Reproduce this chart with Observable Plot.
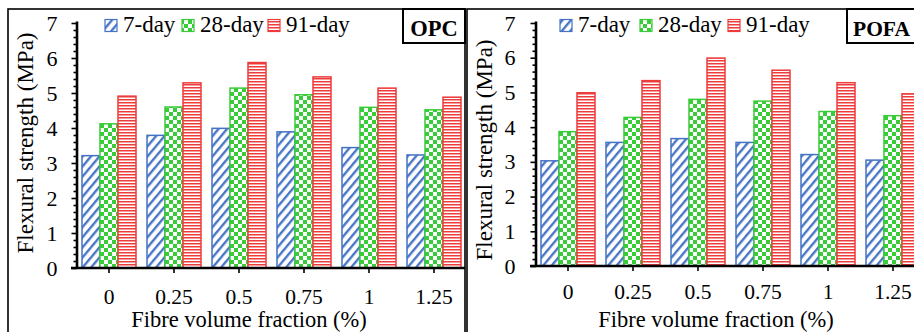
<!DOCTYPE html>
<html><head><meta charset="utf-8">
<script src="https://cdn.jsdelivr.net/npm/d3@7"></script>
<script src="https://cdn.jsdelivr.net/npm/@observablehq/plot@0.6"></script>
<style>
html,body{margin:0;padding:0;background:#fff;overflow:hidden;width:914px;height:332px;}
#wrap{position:relative;width:914px;height:332px;overflow:hidden;background:#fff;}
#wrap svg, #wrap svg text{font-family:"Liberation Serif","DejaVu Serif",serif !important;}
</style></head><body>
<svg id="defs" width="0" height="0" style="position:absolute;left:0;top:0">
<defs>
<pattern id="pat7" patternUnits="userSpaceOnUse" width="6.5" height="6.5" patternTransform="rotate(40)">
 <rect width="6.5" height="6.5" fill="#fff"/>
 <line x1="1.2" y1="-1" x2="1.2" y2="7.5" stroke="#4472C4" stroke-width="2.3"/>
</pattern>
<pattern id="pat28" patternUnits="userSpaceOnUse" width="8" height="8">
 <rect width="8" height="8" fill="#fff"/>
 <rect width="4" height="4" fill="#38CC38"/>
 <rect x="4" y="4" width="4" height="4" fill="#38CC38"/>
</pattern>
<pattern id="pat91" patternUnits="userSpaceOnUse" width="6" height="3">
 <rect width="6" height="3" fill="#fff"/>
 <rect y="0" width="6" height="1.5" fill="#EE3B3B"/>
</pattern>
</defs></svg>
<div id="wrap"></div>
<script>
const categories = ["0", "0.25", "0.5", "0.75", "1", "1.25"];
const series = ["7-day", "28-day", "91-day"];
const opc7  = [3.21, 3.79, 3.99, 3.89, 3.44, 3.23];
const opc28 = [4.12, 4.60, 5.14, 4.95, 4.59, 4.52];
const opc91 = [4.91, 5.29, 5.87, 5.46, 5.14, 4.88];
const pofa7  = [3.03, 3.56, 3.67, 3.56, 3.21, 3.05];
const pofa28 = [3.87, 4.28, 4.80, 4.75, 4.45, 4.33];
const pofa91 = [4.99, 5.34, 5.99, 5.64, 5.28, 4.96];
const yTicks = [0, 1, 2, 3, 4, 5, 6, 7];
const yLabel = "Flexural strength (MPa)";
const xLabel = "Fibre volume fraction (%)";

const colors = {"7-day": "#4472C4", "28-day": "#38CC38", "91-day": "#EE3B3B"};
const fills = {"7-day": "url(#pat7)", "28-day": "url(#pat28)", "91-day": "url(#pat91)"};
const FONT = "Liberation Serif, DejaVu Serif, serif";
const minorTicks = d3.range(0, 36).map(i => i / 5).filter(v => Math.abs(v - Math.round(v)) > 1e-6);

function makePanel(values, cfg) {
  const rows = [];
  series.forEach((s, si) => categories.forEach((c, ci) => rows.push({cat: c, series: s, value: values[si][ci]})));
  const W = 466, H = 340;
  const chart = Plot.plot({
    width: W, height: H,
    marginLeft: 77, marginRight: 1, marginTop: cfg.top, marginBottom: H - cfg.bottom,
    style: {fontFamily: FONT, fontSize: "21px", background: "transparent", overflow: "visible", maxWidth: "none", color: "#000"},
    fx: {domain: categories, paddingInner: 0.031, paddingOuter: 0, label: null},
    x: {domain: series, paddingInner: 0, paddingOuter: 0.19, axis: null},
    y: {domain: [0, 7], label: null},
    marks: [
      ...series.map(s => Plot.barY(rows.filter(r => r.series === s), {
        fx: "cat", x: "series", y: "value", fill: fills[s], stroke: colors[s], strokeWidth: 1.5
      })),
      Plot.axisY(minorTicks, {tickSize: 3.5, tickFormat: () => "", strokeWidth: 1.6, label: null}),
      Plot.axisY(yTicks, {tickSize: 5.5, tickPadding: cfg.yPad, fontSize: 22, strokeWidth: 1.6, label: null}),
      Plot.axisFx({anchor: "bottom", tickSize: 5, tickPadding: cfg.xPad, fontSize: 21.5, strokeWidth: 1.6, label: null})
    ]
  });
  chart.style.position = "absolute";
  chart.style.left = cfg.left + "px";
  chart.style.top = "0px";
  const svg = d3.select(chart);
  const sy = chart.scale("y");
  let fxr = [77, W - 1];
  try { const f = chart.scale("fx"); if (f && f.range) fxr = f.range; } catch (e) {}
  const y0 = sy.apply(0), y7 = sy.apply(7);
  // axis lines
  svg.append("line").attr("x1", fxr[0] - 6).attr("x2", fxr[1]).attr("y1", y0).attr("y2", y0)
    .attr("stroke", "#000").attr("stroke-width", 2.6);
  svg.append("line").attr("x1", fxr[0]).attr("x2", fxr[0]).attr("y1", y7 - 1.5).attr("y2", y0)
    .attr("stroke", "#000").attr("stroke-width", 2.6);
  // panel border
  svg.append("rect").attr("x", 8).attr("y", 9).attr("width", 457).attr("height", 400)
    .attr("fill", "none").attr("stroke", "#000").attr("stroke-width", 1.6);
  // legend
  const lg = svg.append("g").attr("font-family", FONT).attr("font-size", 23).attr("text-anchor", "start");
  series.forEach((s, i) => {
    lg.append("rect").attr("x", cfg.legendX[i]).attr("y", 19.5).attr("width", 12).attr("height", 12)
      .attr("fill", fills[s]).attr("stroke", colors[s]).attr("stroke-width", 1.2);
    lg.append("text").attr("x", cfg.legendX[i] + 18).attr("y", 32).attr("text-anchor", "start").text(s);
  });
  // name box
  svg.append("rect").attr("x", cfg.boxX).attr("y", 9).attr("width", cfg.boxW).attr("height", 34)
    .attr("fill", "#fff").attr("stroke", "#000").attr("stroke-width", 2);
  svg.append("text").attr("x", cfg.nameX).attr("y", 36).attr("text-anchor", cfg.nameAnchor)
    .attr("font-family", FONT).attr("font-size", cfg.nameSize).attr("font-weight", "bold").text(cfg.name);
  // axis titles
  svg.append("text").attr("transform", `translate(33,${cfg.yLabelY}) rotate(-90)`).attr("text-anchor", "middle")
    .attr("font-family", FONT).attr("font-size", 23).text(yLabel);
  svg.append("text").attr("x", cfg.xLabelX).attr("y", 327).attr("text-anchor", "middle")
    .attr("font-family", FONT).attr("font-size", 22.5).text(xLabel);
  document.getElementById("wrap").appendChild(chart);
}

makePanel([opc7, opc28, opc91], {
  left: 0, top: 23, bottom: 268, yPad: 14.5, xPad: 15.5,
  legendX: [105, 182, 268], boxX: 403, boxW: 62, nameX: 434, nameAnchor: "middle", name: "OPC", nameSize: 22.5,
  yLabelY: 143, xLabelX: 249
});
makePanel([pofa7, pofa28, pofa91], {
  left: 459, top: 23, bottom: 266, yPad: 15.5, xPad: 12.5,
  legendX: [101, 181, 269], boxX: 388, boxW: 100, nameX: 394, nameAnchor: "start", name: "POFA", nameSize: 21.5,
  yLabelY: 150, xLabelX: 257
});
</script>
</body></html>
